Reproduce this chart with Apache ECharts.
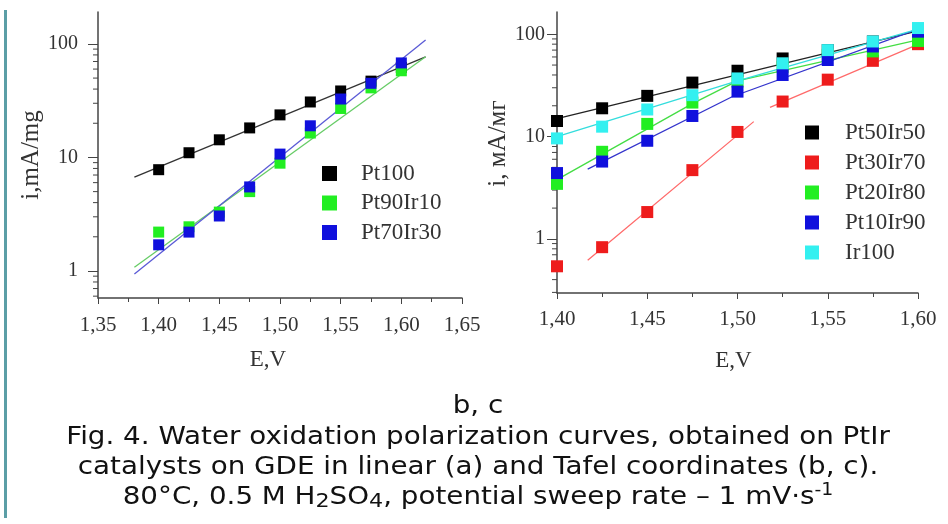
<!DOCTYPE html>
<html>
<head>
<meta charset="utf-8">
<script src="https://cdn.jsdelivr.net/npm/echarts@6/dist/echarts.min.js"></script>
<style>
  html, body { margin: 0; padding: 0; background: #fff; }
  #chart { width: 948px; height: 524px; }
</style>
</head>
<body>
<div id="chart"></div>
<script>
// potentials, V
const potentials = [1.40, 1.425, 1.45, 1.475, 1.50, 1.525, 1.55, 1.575, 1.60]

// panel b, mA/mg
const pt100 = [7.8, 11, 14.3, 18.2, 23.7, 30.8, 38.5, 47, 62]
const pt90ir10 = [2.2, 2.45, 3.3, 5.0, 8.9, 16.4, 27, 41, 58]
const pt70ir30 = [1.7, 2.2, 3.05, 5.5, 10.7, 19, 32.7, 45, 68]
// fitted lines, panel b
const fitLeftE = [1.38, 1.62]
const pt100Fit = [6.7, 77]
const pt90ir10Fit = [1.08, 77]
const pt70ir30Fit = [0.94, 108]

// panel c, mA/mg
const pt50ir50 = [14.2, 18.9, 25, 33.7, 44, 58, 70, 85, 106]
const pt30ir70 = [0.54, 0.83, 1.83, 4.7, 11.1, 22, 36, 55, 80]
const pt20ir80 = [3.45, 7.1, 13.3, 21.5, 34.5, 48, 63, 68, 86]
const pt10ir90 = [4.4, 5.7, 9.1, 15.9, 27.5, 40, 56, 76, 106]
const ir100 = [9.6, 12.5, 18.4, 25.4, 37, 52, 70, 85, 115]
// fitted lines, panel c (null = gap)
const pt50ir50FitE = [1.40, 1.60]
const pt50ir50Fit = [15, 108]
const pt30ir70FitE = [1.417, 1.509, null, 1.518, 1.601]
const pt30ir70Fit = [0.62, 14, null, 19.3, 81]
const pt20ir80FitE = [1.40, 1.475, 1.50, 1.60]
const pt20ir80Fit = [3.8, 21, 35, 88]
const pt10ir90FitE = [1.417, 1.497, 1.60]
const pt10ir90Fit = [4.8, 24.5, 112]
const ir100FitE = [1.40, 1.50, 1.60]
const ir100Fit = [10, 35, 112]

// minor log ticks
const minorLeft = [0.6, 0.7, 0.8, 0.9, 2, 3, 4, 5, 6, 7, 8, 9, 20, 30, 40, 50, 60, 70, 80, 90]
const minorRight = [0.3, 0.4, 0.5, 0.6, 0.7, 0.8, 0.9, 2, 3, 4, 5, 6, 7, 8, 9, 20, 30, 40, 50, 60, 70, 80, 90]

const captionLines = [
  'b, c',
  'Fig. 4. Water oxidation polarization curves, obtained on PtIr',
  'catalysts on GDE in linear (a) and Tafel coordinates (b, c).',
  '80°C, 0.5 M H{sub|2}SO{sub|4}, potential sweep rate – 1 mV·s{sup|-1}'
]

const serif = 'Liberation Serif'
const axisColor = '#444'
const pairs = (xs, ys) => xs.map((x, i) => (x === null ? ['-', '-'] : [x, ys[i]]))

function xAxisOf(grid, min, max, margin, nameGap, namePad) {
  return {
    gridIndex: grid, type: 'value', min: min, max: max, interval: 0.05,
    name: 'E,V', nameLocation: 'middle', nameGap: nameGap,
    nameTextStyle: { fontFamily: serif, fontSize: 23, color: '#333', padding: namePad },
    axisLine: { lineStyle: { color: axisColor, width: 1.5 } },
    axisTick: { length: 6, lineStyle: { color: axisColor } },
    minorTick: { show: true, splitNumber: 2, length: 4, lineStyle: { color: axisColor } },
    splitLine: { show: false },
    axisLabel: {
      margin: margin, fontFamily: serif, fontSize: 21, color: '#333',
      formatter: v => v.toFixed(2).replace('.', ',')
    }
  }
}

function yAxisOf(grid, min, max, name, margin, nameGap, namePad) {
  return {
    gridIndex: grid, type: 'log', logBase: 10, min: min, max: max,
    name: name, nameLocation: 'middle', nameGap: nameGap,
    nameTextStyle: { fontFamily: serif, fontSize: 25, color: '#333', padding: namePad },
    axisLine: { show: true, lineStyle: { color: axisColor, width: 1.5 } },
    axisTick: { length: 10, lineStyle: { color: axisColor } },
    splitLine: { show: false },
    axisLabel: {
      margin: margin, fontFamily: serif, fontSize: 20, color: '#333',
      showMinLabel: false, showMaxLabel: false
    }
  }
}

function minorTicks(idx, xmin, values) {
  return {
    type: 'custom', xAxisIndex: idx, yAxisIndex: idx, clip: false, silent: true, z: 1,
    data: values.map(v => [xmin, v]),
    renderItem: (params, api) => {
      const p = api.coord([api.value(0), api.value(1)])
      return {
        type: 'line',
        shape: { x1: p[0] - 5, y1: p[1], x2: p[0], y2: p[1] },
        style: { stroke: axisColor, lineWidth: 1 }
      }
    }
  }
}

function points(idx, name, values, color, size) {
  return {
    name: name, type: 'scatter', xAxisIndex: idx, yAxisIndex: idx,
    symbol: 'rect', symbolSize: size, z: 3,
    itemStyle: { color: color, opacity: 1 },
    data: pairs(potentials, values)
  }
}

function fit(idx, xs, ys, color) {
  return {
    type: 'line', xAxisIndex: idx, yAxisIndex: idx, showSymbol: false, z: 2,
    connectNulls: false, clip: false,
    lineStyle: { color: color, width: 1.3 },
    data: pairs(xs, ys)
  }
}

const legendText = { fontFamily: serif, fontSize: 23, color: '#333' }
const captionFont = '"DejaVu Sans"'

const option = {
  animation: false,
  backgroundColor: '#fff',
  grid: [
    { left: 98, top: 12, width: 364, height: 286 },
    { left: 557, top: 12, width: 361, height: 281 }
  ],
  xAxis: [
    xAxisOf(0, 1.35, 1.65, 17, 50, [0, 24, 0, 0]),
    xAxisOf(1, 1.40, 1.60, 16, 56, [0, 8, 0, 0])
  ],
  yAxis: [
    yAxisOf(0, 0.578, 191, 'i,mA/mg', 20, 46, [0, 0, 0, 0]),
    yAxisOf(1, 0.296, 165, 'i, мА/мг', 12, 29, [0, 0, 0, 18])
  ],
  legend: [
    {
      data: ['Pt100', 'Pt90Ir10', 'Pt70Ir30'], orient: 'vertical', icon: 'rect',
      left: 322, top: 162, padding: 0, itemWidth: 15, itemHeight: 15, itemGap: 6.5,
      textStyle: Object.assign({ padding: [0, 0, 0, 19] }, legendText)
    },
    {
      data: ['Pt50Ir50', 'Pt30Ir70', 'Pt20Ir80', 'Pt10Ir90', 'Ir100'], orient: 'vertical', icon: 'rect',
      left: 805, top: 121, padding: 0, itemWidth: 14, itemHeight: 14, itemGap: 7,
      textStyle: Object.assign({ padding: [0, 0, 0, 21] }, legendText)
    }
  ],
  graphic: [
    { type: 'rect', shape: { x: 4, y: 10, width: 3, height: 508 }, style: { fill: '#5b9ea6' } }
  ].concat(captionLines.map((t, i) => ({
    type: 'text', x: 478, y: [406, 437, 467, 497][i], scaleX: 1.11,
    style: {
      text: t, fontFamily: captionFont, fontSize: 25, lineHeight: 30, fill: '#111',
      align: 'center', verticalAlign: 'middle',
      rich: {
        sub: { fontFamily: captionFont, fontSize: 20, lineHeight: 20, verticalAlign: 'bottom', fill: '#111' },
        sup: { fontFamily: captionFont, fontSize: 17, lineHeight: 17, verticalAlign: 'top', fill: '#111' }
      }
    }
  }))),
  series: [
    minorTicks(0, 1.35, minorLeft),
    minorTicks(1, 1.40, minorRight),
    fit(0, fitLeftE, pt100Fit, '#333'),
    fit(0, fitLeftE, pt90ir10Fit, '#66cc66'),
    fit(0, fitLeftE, pt70ir30Fit, '#5a5ad6'),
    points(0, 'Pt100', pt100, '#000', 11),
    points(0, 'Pt90Ir10', pt90ir10, '#22ee22', 11),
    points(0, 'Pt70Ir30', pt70ir30, '#1010dd', 11),
    fit(1, pt50ir50FitE, pt50ir50Fit, '#222'),
    fit(1, pt30ir70FitE, pt30ir70Fit, '#ff6a6a'),
    fit(1, pt20ir80FitE, pt20ir80Fit, '#44dd44'),
    fit(1, pt10ir90FitE, pt10ir90Fit, '#3434cc'),
    fit(1, ir100FitE, ir100Fit, '#33dddd'),
    points(1, 'Pt50Ir50', pt50ir50, '#000', 12),
    points(1, 'Pt30Ir70', pt30ir70, '#ee1c1c', 12),
    points(1, 'Pt20Ir80', pt20ir80, '#22ee22', 12),
    points(1, 'Pt10Ir90', pt10ir90, '#1010dd', 12),
    points(1, 'Ir100', ir100, '#33f0f0', 12)
  ]
}

const chart = echarts.init(document.getElementById('chart'))
chart.setOption(option)
</script>
</body>
</html>
